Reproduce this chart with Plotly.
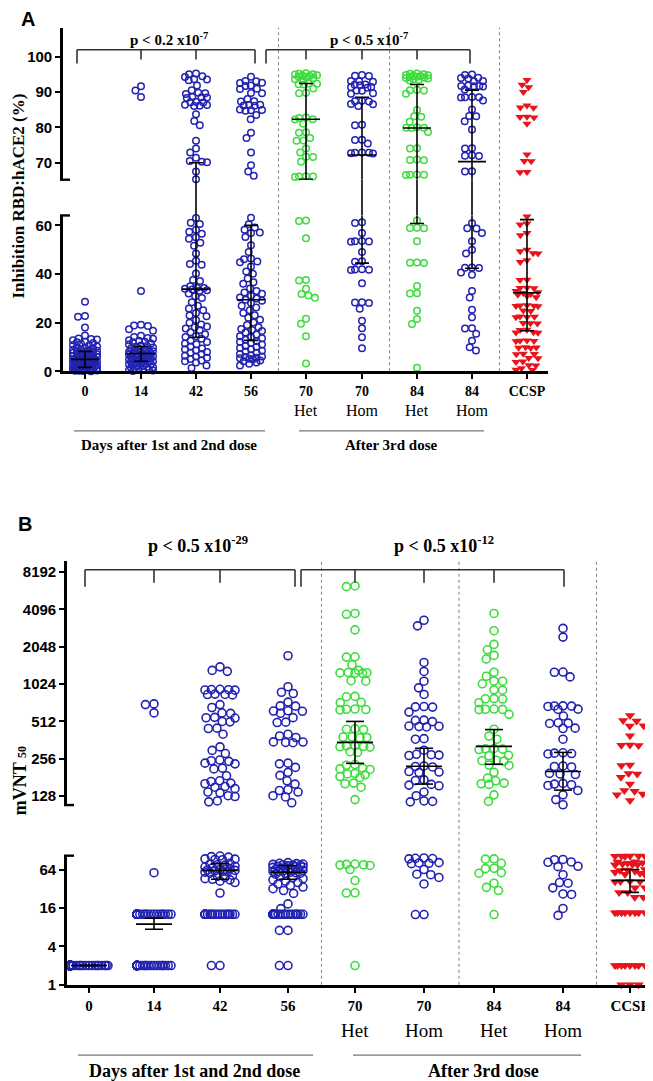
import numpy as np
import plotly.graph_objects as go

W, H = 653, 1081

## Categorias (eixo x)
cats = ["0", "14", "42", "56", "70", "70", "84", "84", "CCSP"]
subs = ["", "", "", "", "Het", "Hom", "Het", "Hom", ""]
kind = ["hom", "hom", "hom", "hom", "het", "hom", "het", "hom", "ccsp"]

## Painel A - inibicao RBD:hACE2 (%)
A_day0 = [28.6, 22.4, 22.7, 18.0, 14.7, 13.5, 13.1, 12.8, 13.3, 12.2, 11.6, 11.9, 10.8, 11.3, 10.2, 10.6,
          9.7, 9.9, 9.1, 9.5, 8.8, 8.4, 8.9, 8.2, 7.9, 7.6, 8.0, 7.3, 7.0, 7.5, 6.7, 6.9, 6.4, 6.1, 6.6,
          5.9, 5.7, 6.2, 5.5, 5.3, 5.8, 5.0, 5.2, 4.9, 4.9, 4.7, 5.1, 4.5, 4.6, 4.3, 4.1, 4.4, 3.9, 3.7,
          4.0, 3.5, 3.3, 3.6, 3.0, 3.2, 2.8, 2.6, 2.9, 2.4, 2.2, 2.5, 2.0, 1.8, 2.1, 1.6, 1.5, 1.7, 1.3,
          1.4, 1.1, 0.9, 1.2, 0.8, 0.6, 1.0, 0.4, 0.5, 0.2, 0.3, 0.1, 0.0, 0.2, 0.7, 0.4]
A_day14 = [91.6, 90.4, 88.6, 33.0, 19.1, 18.8, 18.6, 17.3, 16.7, 14.6, 14.1, 13.7, 13.4, 12.8, 12.6, 12.1,
           11.9, 11.4, 11.0, 10.6, 10.4, 10.0, 9.8, 9.4, 9.3, 8.9, 8.7, 8.4, 8.2, 7.9, 7.8, 7.5, 7.4, 7.2,
           7.3, 7.0, 6.9, 6.7, 6.5, 6.6, 6.2, 6.0, 5.9, 5.7, 5.5, 5.3, 5.1, 4.9, 4.7, 4.5, 4.3, 4.1, 3.9,
           4.0, 3.6, 3.4, 3.2, 2.9, 3.0, 2.7, 2.4, 2.2, 1.9, 1.7, 1.5, 1.2, 1.0, 0.8, 0.5, 0.3, 0.6, 0.1]
A_day42 = [95.2, 95.0, 94.4, 94.2, 93.5, 93.3, 93.6, 91.8, 90.5, 89.6, 89.4, 89.8, 88.5, 88.3, 88.6, 88.4,
           87.1, 87.0, 87.2, 86.3, 86.1, 86.4, 86.0, 83.7, 81.8, 80.6, 76.2, 74.0, 72.9, 71.4, 70.3, 70.1,
           70.5, 67.5, 65.3,
           63.0, 61.1, 60.6, 58.2, 57.4, 56.6, 55.1, 54.5, 52.9, 51.6, 48.4, 45.5, 44.1, 43.8, 40.2, 37.6,
           37.1, 35.0, 34.4, 34.0, 34.3, 33.6, 33.1, 33.3, 32.0, 30.9, 30.1, 28.4, 27.0, 25.8, 25.1, 24.0,
           22.9, 22.6, 21.1, 20.0, 19.2, 18.4, 18.1, 17.6, 17.0, 16.1, 15.2, 14.4, 14.1, 13.4, 12.6, 12.0,
           11.4, 11.1, 10.2, 9.4, 9.1, 8.6, 7.9, 7.6, 7.1, 6.4, 6.1, 5.6, 5.1, 4.4, 4.1, 3.6, 2.4, 1.4]
A_day56 = [94.3, 93.0, 93.1, 92.5, 92.6, 91.8, 91.7, 90.8, 90.9, 89.6, 89.7, 88.0, 87.3, 87.4, 86.3, 86.2,
           86.4, 86.1, 84.9, 84.8, 85.0, 84.7, 83.5, 82.3, 78.5, 77.0, 72.9, 69.3, 67.5, 66.3,
           63.2, 60.5, 59.1, 58.2, 57.1, 56.9, 55.2, 51.8, 49.1, 46.4, 46.1, 45.2, 44.8, 43.1, 41.0, 40.1,
           38.2, 36.6, 36.0, 34.1, 33.0, 32.4, 31.9, 31.1, 30.4, 29.9, 29.4, 29.0, 28.1, 27.0, 26.2, 25.1,
           24.0, 23.1, 22.0, 21.2, 20.1, 19.0, 18.1, 17.4, 17.0, 16.6, 16.0, 15.1, 14.4, 14.0, 13.6, 13.0,
           12.4, 12.1, 11.6, 11.0, 10.4, 10.1, 9.6, 9.1, 8.4, 8.1, 7.6, 7.1, 6.6, 6.1, 5.9, 5.4, 5.6, 5.0,
           5.2, 4.4, 4.1, 3.6, 3.1, 2.4]
A_70het = [95.3, 95.1, 94.9, 94.7, 94.5, 94.3, 95.0, 94.6, 94.2, 93.9, 93.6, 93.3, 92.3, 92.2, 92.1, 92.4,
           91.0, 89.8, 89.6, 82.8, 82.6, 82.3, 82.2, 81.0, 78.5, 78.6, 77.0, 76.2, 76.3, 74.0, 72.9, 71.6,
           71.7, 70.3, 66.1, 66.0, 66.2, 66.1,
           62.0, 61.8, 54.7, 37.6, 37.3, 34.0, 31.8, 30.2, 31.2, 21.6, 19.6, 14.4, 3.2]
A_70hom = [94.6, 94.8, 94.5, 93.0, 93.1, 92.9, 92.0, 92.1, 91.9, 91.3, 91.2, 91.4, 90.3, 90.4, 89.5, 89.6,
           87.4, 87.5, 87.3, 86.5, 86.6, 86.0, 80.6, 80.7, 76.4, 76.5, 75.4, 72.8, 72.7, 72.9, 72.6, 72.8,
           61.3, 61.0, 56.9, 53.5, 53.4, 53.6, 53.3, 49.1, 45.3, 45.1, 41.9, 41.8, 42.0, 41.7, 36.2, 28.3,
           28.1, 28.4, 25.7, 20.8, 17.7, 14.0, 9.5]
A_84het = [95.2, 95.0, 94.8, 94.6, 94.4, 94.2, 94.0, 93.8, 93.6, 93.4, 93.2, 95.1, 94.7, 94.3, 93.9, 90.5,
           90.6, 90.4, 89.5, 84.9, 83.0, 83.1, 81.6, 79.9, 80.0, 79.8, 79.9, 78.7, 74.0, 74.1, 70.8, 70.9,
           70.7, 66.6, 66.5, 66.7, 66.6,
           62.0, 58.9, 59.0, 58.8, 53.5, 44.6, 44.5, 44.7, 35.1, 32.1, 32.0, 24.9, 21.5, 19.5, 1.5]
A_84hom = [94.9, 94.8, 93.9, 94.0, 93.8, 93.0, 93.1, 91.7, 91.8, 91.6, 91.7, 91.5, 90.7, 88.5, 88.6, 88.4,
           88.5, 87.6, 85.0, 83.2, 83.1, 81.7, 79.4, 74.0, 74.1, 72.0, 72.1, 71.9, 67.5, 67.6,
           60.9, 58.8, 58.7, 56.9, 53.5, 48.5, 50.0, 42.6, 42.5, 42.7, 40.6, 39.7, 33.0, 30.3, 25.3, 22.2,
           17.7, 17.6, 15.4, 12.6, 9.9, 8.6]
A_ccsp = [93.4, 92.0, 91.3, 90.0, 86.2, 85.5, 85.6, 82.9, 83.0, 82.8, 81.0, 72.3, 70.4, 70.5, 67.3, 67.4,
          63.7, 60.4, 60.8, 56.9, 56.0, 49.4, 48.5, 48.6, 50.0, 45.7, 45.0, 37.7, 37.6, 34.3, 34.2, 34.4,
          33.0, 32.5, 32.2, 31.8, 31.5, 31.0, 30.5, 27.0, 27.1, 26.9, 27.2, 26.8, 25.0, 24.8, 22.3, 22.4,
          22.2, 22.5, 19.8, 19.9, 19.7, 17.0, 17.1, 16.0, 16.1, 15.9, 12.5, 12.6, 12.4, 12.7, 9.8, 9.9,
          9.7, 9.6, 7.1, 7.2, 7.0, 5.5, 5.4, 4.0, 3.8, 2.5, 2.4, 1.2, 0.6, 0.5]
A_groups = [A_day0, A_day14, A_day42, A_day56, A_70het, A_70hom, A_84het, A_84hom, A_ccsp]

# mediana e intervalo
A_med = [4.9, 7.3, 33.8, 29.4, 82.3, 72.2, 79.8, 70.3, 32.3]
A_lo = [1.6, 4.1, 14.0, 12.7, 65.3, 44.5, 60.8, 42.4, 16.7]
A_hi = [8.2, 10.2, 70.0, 60.0, 92.4, 88.5, 92.1, 90.5, 62.4]

## Painel B - mVNT50
B_day0 = [2, 2, 2, 2, 2, 2, 2, 2, 2, 2, 2, 2, 2, 2, 2, 2, 2, 2, 2, 2, 2, 2, 2, 2,
          2, 2, 2, 2, 2, 2, 2, 2, 2, 2, 2, 2, 2, 2, 2, 2, 2, 2, 2, 2, 2, 2, 2, 2,
          2, 2, 2, 2, 2, 2, 2, 2, 2, 2, 2, 2, 2, 2, 2, 2, 2, 2, 2, 2, 2, 2, 2, 2,
          2, 2, 2, 2, 2, 2, 2, 2, 2, 2, 2, 2, 2, 2, 2, 2, 2, 2, 2, 2, 2, 2, 2, 2]
B_day14 = [709, 700, 600, 57,
           12.7, 12.7, 12.7, 12.7, 12.7, 12.7, 12.7, 12.7, 12.7, 12.7, 12.7, 12.7, 12.7, 12.7, 12.7, 12.7,
           12.7, 12.7, 12.7, 12.7, 12.7, 12.7, 12.7, 12.7, 12.7, 12.7, 12.7, 12.7, 12.7, 12.7, 12.7, 12.7,
           12.7, 12.7, 12.7, 12.7,
           2, 2, 2, 2, 2, 2, 2, 2, 2, 2, 2, 2, 2, 2, 2, 2, 2, 2, 2, 2,
           2, 2, 2, 2, 2, 2, 2, 2, 2, 2, 2, 2, 2, 2, 2, 2, 2, 2, 2, 2]
B_day42 = [1410, 1297, 1320, 923, 930, 915, 925, 918, 843, 850, 838, 845, 700, 663, 594, 600, 548, 552,
           545, 508, 512, 449, 452, 404, 319, 299, 282, 247, 250, 244, 233, 236, 212, 215, 187, 168, 170,
           161, 163, 151, 153, 147, 138, 136, 127, 129, 115, 117,
           102, 100, 104, 92, 93, 91, 94, 80, 78, 76, 75, 72, 70, 68, 66, 64, 64, 63, 62, 61, 60, 59, 58,
           56, 52, 50, 48, 46, 45, 44, 42, 40, 27.4,
           12.7, 12.7, 12.7, 12.7, 12.7, 12.7, 12.7, 12.7, 12.7, 12.7, 12.7, 12.7, 12.7, 12.7, 12.7, 12.7,
           12.7, 12.7, 12.7, 12.7, 2, 2]
B_day56 = [1733, 975, 880, 860, 733, 680, 684, 621, 618, 624, 596, 549, 502, 505, 404, 380, 391, 347, 345,
           349, 350, 233, 236, 199, 218, 188, 160, 170, 142, 144, 138, 129, 126, 113,
           82, 80, 79, 78, 77, 76, 75, 74, 73, 72, 71, 70, 69, 68, 67, 66, 65, 64, 64, 63, 62, 61, 60, 59,
           58, 57, 56, 55, 54, 50, 48, 46, 44, 42, 40, 38, 36, 34, 32, 30, 27, 18.5, 15.6,
           12.7, 12.7, 12.7, 12.7, 12.7, 12.7, 12.7, 12.7, 12.7, 12.7, 12.7, 12.7, 12.7, 12.7, 12.7, 12.7,
           12.7, 12.7, 12.7, 12.7, 12.7, 12.7, 12.7, 12.7, 12.7, 7.1, 7.1, 2, 2]
B_70het = [6250, 6330, 3740, 3800, 2800, 1690, 1700, 1465, 1322, 1260, 1255, 1265, 1250, 1270, 1080, 1090,
           809, 815, 724, 730, 639, 645, 635, 642, 443, 447, 440, 380, 385, 378, 383, 322, 325, 320, 318,
           327, 288, 292, 227, 230, 212, 215, 210, 193, 195, 190, 181, 184, 161, 163, 151, 120,
           76, 77, 75, 78, 74, 64, 43, 27.4, 27.6, 2]
B_70hom = [3020, 3350, 1530, 1295, 1080, 955, 845, 671, 675, 668, 609, 522, 525, 510, 465, 468, 462, 470,
           368, 372, 300, 274, 276, 272, 278, 222, 224, 220, 200, 202, 198, 171, 173, 157, 159, 155, 138,
           129, 116, 117, 115,
           96, 95, 97, 94, 80, 81, 79, 82, 64, 53, 54, 48, 38, 12.6, 12.6]
B_84het = [3800, 2760, 2140, 1935, 1745, 1630, 1276, 1184, 1080, 1085, 1030, 915, 920, 779, 782, 776, 724,
           640, 642, 638, 644, 584, 443, 368, 390, 306, 308, 304, 310, 271, 273, 247, 249, 245, 226, 228,
           199, 179, 161, 163, 159, 170, 131, 116,
           94, 93, 80, 67, 66, 56, 57, 39, 33.6, 30, 12.6]
B_84hom = [2880, 2450, 1276, 1280, 1170, 680, 684, 676, 682, 640, 643, 566, 496, 499, 493, 449, 452, 368,
           282, 284, 280, 286, 222, 224, 220, 193, 195, 191, 160, 162, 158, 156, 142, 131, 120, 109,
           91, 92, 83, 84, 71, 72, 53, 39, 40, 33, 26, 26.5, 15.7, 12.2]
B_ccsp = [572, 517, 520, 470, 472, 392, 329, 331, 327, 226, 228, 193, 195, 182, 160, 140, 142, 131, 133, 118,
          104, 103, 104, 102, 103, 104, 85, 84, 82, 80, 78, 77, 76, 76, 64, 63, 62, 60, 58, 56, 54, 53,
          41.6, 41, 42, 41.5, 33, 33, 28, 28, 23.5, 23.5,
          13.4, 13.4, 13.4, 13.4, 13.4, 13.4, 13.4, 13.4, 2, 2, 2, 2, 2, 2, 2, 2, 1, 1, 1]
B_groups = [B_day0, B_day14, B_day42, B_day56, B_70het, B_70hom, B_84het, B_84hom, B_ccsp]

B_med = [2, 8.9, 62, 58, 347, 223, 322, 202, 43]
B_lo = [2, 7.4, 45, 45, 235, 160, 231, 143, 28]
B_hi = [2, 11, 79, 74, 512, 311, 440, 288, 64]

A_yticks = [[0, 20, 40, 60], [70, 80, 90, 100]]
B_yticks = [[1, 4, 16, 64], [128, 256, 512, 1024, 2048, 4096, 8192]]

#### Layout (pixels da figura)
posA = [77, 133, 188, 243, 298, 354, 409, 464, 519]
posB = [81, 146, 212, 280, 347, 416, 486, 555, 622]
widthA = [12, 12, 11, 11, 11, 11, 11, 11, 11]
widthB = [19, 17, 15, 15, 15, 15, 15, 15, 15]

segA = [dict(ax="y", p0=366, p1=209, v0=0.0, v1=64.1, log=False),
        dict(ax="y2", p0=173, p1=20, v0=65.2, v1=108.1, log=False)]
segB = [dict(ax="y3", p0=984, p1=854, v0=0.0, v1=6.72, log=True),
        dict(ax="y4", p0=803, p1=557, v0=6.76, v1=13.3, log=True)]

BLUE = "#2222b0"
GREEN = "#3ddc3d"
RED = "#e8141c"
SERIF = "Liberation Serif"
SANS = "Liberation Sans"


def fx(x):
    return x / W


def fy(y):
    return 1 - y / H


def tr(v, log):
    return np.log2(v) if log else v


def which_seg(v, segs):
    t = tr(v, segs[0]["log"])
    return 0 if t <= (segs[0]["v1"] + segs[1]["v0"]) / 2 else 1


def to_pix(v, segs):
    s = segs[which_seg(v, segs)]
    t = tr(v, s["log"])
    return s["p0"] + (t - s["v0"]) / (s["v1"] - s["v0"]) * (s["p1"] - s["p0"])


def swarm(ys, d, maxw):
    # beeswarm simples: desloca cada ponto para o lado ate nao sobrepor
    order = np.argsort(ys, kind="stable")
    xs = np.zeros(len(ys))
    placed = []
    for i in order:
        y = ys[i]
        near = [(xj, yj) for xj, yj in placed if abs(yj - y) < d]
        cands = [0.0]
        for xj, yj in near:
            dx = np.sqrt(d * d - (yj - y) ** 2)
            cands += [xj - dx, xj + dx]
        ok = [c for c in cands if abs(c) <= maxw + 1e-9 and
              all((c - xj) ** 2 + (y - yj) ** 2 >= d * d - 1e-6 for xj, yj in near)]
        if ok:
            x = min(ok, key=lambda c: (round(abs(c), 6), c))
        else:
            grid = np.linspace(-maxw, maxw, 13)
            x = max(grid, key=lambda c: min((c - xj) ** 2 + (y - yj) ** 2 for xj, yj in near))
        xs[i] = x
        placed.append((x, y))
    return xs


fig = go.Figure()


def add_points(groups, pos, widths, segs, xaxis, d, size, lw, tri):
    for g, p, wd, k in zip(groups, pos, widths, kind):
        vals = np.array(g, dtype=float)
        pys = np.array([to_pix(v, segs) for v in vals])
        offs = swarm(pys, d, wd)
        for si, s in enumerate(segs):
            m = np.array([which_seg(v, segs) == si for v in vals])
            if not m.any():
                continue
            if k == "ccsp":
                mk = dict(symbol="triangle-down", size=tri, color=RED, line=dict(width=0))
            else:
                mk = dict(symbol="circle-open", size=size, color=GREEN if k == "het" else BLUE,
                          line=dict(width=lw))
            fig.add_trace(go.Scatter(x=p + offs[m], y=vals[m], mode="markers", marker=mk,
                                     xaxis=xaxis, yaxis=s["ax"], cliponaxis=False,
                                     showlegend=False, hoverinfo="y"))


def add_bars(pos, med, lo, hi, segs, xaxis, hm, hc):
    shapes = []
    log = segs[0]["log"]
    for s in segs:
        xs, ys = [], []
        for p, m, a, b in zip(pos, med, lo, hi):
            ta, tb = tr(a, log), tr(b, log)
            c0, c1 = max(ta, s["v0"]), min(tb, s["v1"])
            if c0 < c1:
                inv = (lambda t: 2 ** t) if log else (lambda t: t)
                xs += [p, p, None]
                ys += [inv(c0), inv(c1), None]
            for val, hw in ((m, hm), (a, hc), (b, hc)):
                if s["v0"] - 1e-9 <= tr(val, log) <= s["v1"] + 1e-9:
                    xs += [p - hw, p + hw, None]
                    ys += [val, val, None]
        fig.add_trace(go.Scatter(x=xs, y=ys, mode="lines", line=dict(color="black", width=1.6),
                                 xaxis=xaxis, yaxis=s["ax"], showlegend=False, hoverinfo="skip"))
    for p, a, b in zip(pos, lo, hi):
        if which_seg(a, segs) == 0 and which_seg(b, segs) == 1:
            shapes.append(dict(type="line", xref=xaxis, yref="paper", x0=p, x1=p,
                               y0=fy(segs[0]["p1"]), y1=fy(segs[1]["p0"]),
                               line=dict(color="black", width=1.6)))
    return shapes


add_points(A_groups, posA, widthA, segA, "x", 7.0, 6.5, 1.5, 8)
add_points(B_groups, posB, widthB, segB, "x2", 8.6, 8, 1.6, 9)
shapes = add_bars(posA, A_med, A_lo, A_hi, segA, "x", 14, 7)
shapes += add_bars(posB, B_med, B_lo, B_hi, segB, "x2", 18, 9)


def xax(x0, x1, anchor, pos, fsize):
    return dict(domain=[fx(x0), fx(x1)], range=[x0, x1], anchor=anchor, showline=True,
                linewidth=2.6, linecolor="black", ticks="outside", ticklen=5, tickwidth=2,
                tickcolor="black", tickvals=pos, ticktext=cats,
                tickfont=dict(family=SERIF, size=fsize, color="black", weight="bold"),
                showgrid=False, zeroline=False, fixedrange=True)


def yax(s, anchor, vals):
    d = dict(domain=[fy(s["p0"]), fy(s["p1"])], anchor=anchor, showline=True, linewidth=2.6,
             linecolor="black", ticks="outside", ticklen=5, tickwidth=2, tickcolor="black",
             tickvals=vals, ticktext=[str(v) for v in vals],
             tickfont=dict(family=SANS, size=15, color="black", weight="bold"),
             showgrid=False, zeroline=False, fixedrange=True)
    if s["log"]:
        d["type"] = "log"
        d["range"] = [s["v0"] * np.log10(2), s["v1"] * np.log10(2)]
    else:
        d["range"] = [s["v0"], s["v1"]]
    return d


def hline(x0, x1, y, color="black", width=1.5, dash=None):
    ln = dict(color=color, width=width)
    if dash:
        ln["dash"] = dash
    return dict(type="line", xref="paper", yref="paper", x0=fx(x0), x1=fx(x1), y0=fy(y), y1=fy(y), line=ln)


def vline(x, y0, y1, color="black", width=1.5, dash=None):
    ln = dict(color=color, width=width)
    if dash:
        ln["dash"] = dash
    return dict(type="line", xref="paper", yref="paper", x0=fx(x), x1=fx(x), y0=fy(y0), y1=fy(y1), line=ln)


# separadores pontilhados
for i in (3, 5, 7):
    shapes.append(vline((posA[i] + posA[i + 1]) / 2, 366, 20, "#8a8a8a", 1.1, "dot"))
    shapes.append(vline((posB[i] + posB[i + 1]) / 2, 984, 557, "#8a8a8a", 1.1, "dot"))

# tampas nas quebras do eixo
for y in (209, 173):
    shapes.append(hline(52, 62, y, "black", 2.4))
for y in (854, 803):
    shapes.append(hline(56, 66, y, "black", 2.4))


def bracket(left, right, ticks, ytop, yend, ytick, color="#333333"):
    out = [hline(left, right, ytop, color, 1.6), vline(left, ytop, yend, color, 1.6),
           vline(right, ytop, yend, color, 1.6)]
    for t in ticks:
        out.append(vline(t, ytop, ytick, color, 1.6))
    return out


shapes += bracket(posA[0] - 8, posA[3] + 4, posA[1:3], 42, 56, 52)
shapes += bracket(posA[4] - 40, posA[7] - 2, posA[4:7], 42, 56, 52)
shapes += bracket(posB[0] - 4, posB[3] + 7, posB[1:3], 566, 583, 579)
shapes += bracket(posB[4] - 54, posB[7] + 1, posB[4:7], 566, 583, 579)

# linhas sob os grupos
shapes += [hline(66, 257, 426, "#777777", 1.3), hline(291, 476, 426, "#777777", 1.3),
           hline(70, 305, 1055, "#777777", 1.3), hline(345, 573, 1055, "#777777", 1.3)]


def note(text, x, y, size, family=SERIF, bold=True, angle=0):
    return dict(text=text, x=fx(x), y=fy(y), xref="paper", yref="paper", showarrow=False,
                xanchor="center", yanchor="middle", textangle=angle,
                font=dict(family=family, size=size, color="black", weight="bold" if bold else "normal"))


ann = [note("A", 20, 11, 20, SANS), note("B", 17, 520, 20, SANS),
       note("p < 0.2 x10<sup>-7</sup>", 161, 31, 15), note("p < 0.5 x10<sup>-7</sup>", 361, 31, 15),
       note("p < 0.5 x10<sup>-29</sup>", 190, 541, 18), note("p < 0.5 x10<sup>-12</sup>", 436, 541, 18),
       note("Inhibition RBD:hACE2 (%)", 11, 190, 17, angle=-90),
       note("mVNT <span style='font-size:12px'>50</span>", 12, 779, 18, angle=-90),
       note("Days after 1st and 2nd dose", 161, 440, 15), note("After 3rd dose", 383, 440, 15),
       note("Days after 1st and 2nd dose", 186, 1071, 18), note("After 3rd dose", 475, 1071, 18)]
for i, s in enumerate(subs):
    if s:
        ann.append(note(s, posA[i], 406, 16, bold=False))
        ann.append(note(s, posB[i], 1030, 19, bold=False))

fig.update_layout(
    width=W, height=H, margin=dict(l=0, r=0, t=0, b=0),
    paper_bgcolor="white", plot_bgcolor="rgba(0,0,0,0)", showlegend=False,
    xaxis=xax(55, 540, "y", posA, 14),
    xaxis2=xax(59, 653, "y3", posB, 15),
    yaxis=yax(segA[0], "x", A_yticks[0]),
    yaxis2=yax(segA[1], "x", A_yticks[1]),
    yaxis3=yax(segB[0], "x2", B_yticks[0]),
    yaxis4=yax(segB[1], "x2", B_yticks[1]),
    shapes=shapes, annotations=ann,
)

fig.write_html("out.html")
